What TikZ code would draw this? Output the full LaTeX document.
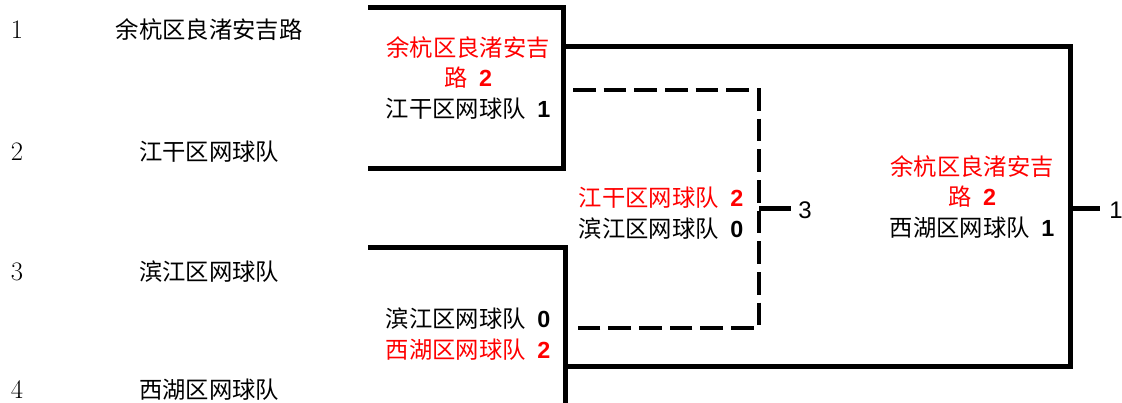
\documentclass[tikz,border=0pt]{standalone}
\usepackage{fontspec}
\newfontfamily\cjk{Noto Sans CJK SC}
\newfontfamily\numfont{Liberation Sans}

\tikzset{
  bracket/.style={line width=3.75pt},
  dashbracket/.style={line width=3pt, dash pattern=on 17pt off 6pt},
  seed/.style={font=\fontsize{20pt}{24pt}\selectfont},
  team/.style={font=\cjk\fontsize{17.5pt}{23pt}\selectfont},
  score/.style={font=\cjk\fontsize{17.5pt}{23pt}\selectfont, align=center, inner sep=0pt},
  place/.style={font=\numfont\fontsize{18pt}{23pt}\selectfont, anchor=west, inner sep=0pt}
}
\newcommand{\pts}[1]{{\numfont\bfseries #1}}

\begin{document}
\begin{tikzpicture}[x=0.75pt, y=-0.75pt]

  \useasboundingbox (0,0) rectangle (1122,403);

  % seeds
  \foreach \i/\club/\y in {1/余杭区良渚安吉路/30, 2/江干区网球队/152, 3/滨江区网球队/272, 4/西湖区网球队/390} {
    \node[seed] (n\i) at (17,\y) {\i};
    \node[team] (t\i) at (209,\y) {\club};
  }

  % first round
  \node[score] (m1) at (468,78) {\color{red}余杭区良渚安吉\\\color{red}路\enspace\pts{2}\\江干区网球队\enspace\pts{1}};
  \node[score] (m2) at (468,334) {滨江区网球队\enspace\pts{0}\\\color{red}西湖区网球队\enspace\pts{2}};

  % third place, final
  \node[score] (m3) at (661,213) {\color{red}江干区网球队\enspace\pts{2}\\滨江区网球队\enspace\pts{0}};
  \node[score] (fin) at (972,197) {\color{red}余杭区良渚安吉\\\color{red}路\enspace\pts{2}\\西湖区网球队\enspace\pts{1}};

  \node[place] (r3) at (798,210) {3};
  \node[place] (r1) at (1109,210) {1};

  \coordinate (a1) at (368,8);
  \coordinate (a2) at (368,168);
  \coordinate (v1) at (563,168);
  \coordinate (a3) at (368,247);
  \coordinate (v2) at (565,403);

  \coordinate (f1) at (563,47);
  \coordinate (f2) at (565,366);
  \coordinate (fv) at (1070,366);
  \coordinate (fm) at (1070,208);

  \coordinate (d1) at (573,90);
  \coordinate (d2) at (573,328);
  \coordinate (dv) at (759,328);
  \coordinate (dm) at (759,208);

  \draw[bracket] (a1) -| (v1) -- (a2);
  \draw[bracket] (a3) -| (v2);
  \draw[bracket] (f1) -| (fv) -- (f2);
  \draw[dashbracket] (d1) -| (dv) -- (d2);

  \draw[bracket, shorten >=5.5pt] (dm) -- (r3.west |- dm);
  \draw[bracket, shorten >=6.5pt] (fm) -- (r1.west |- fm);
\end{tikzpicture}
\end{document}
